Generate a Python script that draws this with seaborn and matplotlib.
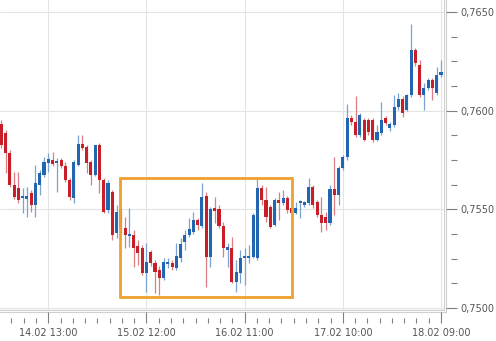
import numpy as np
import pandas as pd
import seaborn as sns
import matplotlib
matplotlib.use("Agg")
import matplotlib.pyplot as plt
from matplotlib.patches import Rectangle
from matplotlib.ticker import FuncFormatter

opens = [0.75933, 0.75887, 0.75786, 0.75624, 0.75608, 0.75558, 0.75553, 0.75583, 0.75522, 0.75624,
         0.75674, 0.75735, 0.75750, 0.75735, 0.75750, 0.75720, 0.75649, 0.75558, 0.75725, 0.75831,
         0.75816, 0.75740, 0.75674, 0.75826, 0.75649, 0.75497, 0.75588, 0.75380, 0.75497, 0.75406,
         0.75365, 0.75370, 0.75315, 0.75304, 0.75178, 0.75284, 0.75228, 0.75193, 0.75152, 0.75223,
         0.75228, 0.75203, 0.75254, 0.75335, 0.75370, 0.75385, 0.75446, 0.75416, 0.75568, 0.75259,
         0.75507, 0.75502, 0.75416, 0.75294, 0.75304, 0.75132, 0.75178, 0.75254, 0.75254, 0.75259,
         0.75254, 0.75608, 0.75548, 0.75512, 0.75421, 0.75548, 0.75532, 0.75558, 0.75507, 0.75482,
         0.75532, 0.75522, 0.75532, 0.75613, 0.75537, 0.75472, 0.75461, 0.75431, 0.75603, 0.75573,
         0.75710, 0.75765, 0.75963, 0.75943, 0.75877, 0.75953, 0.75953, 0.75953, 0.75852, 0.75887,
         0.75963, 0.75912, 0.75928, 0.76019, 0.76059, 0.76004, 0.76080, 0.76308, 0.76232, 0.76080,
         0.76115, 0.76156, 0.76090, 0.76181]
highs = [0.75953, 0.75902, 0.75801, 0.75689, 0.75689, 0.75608, 0.75613, 0.75598, 0.75725, 0.75700,
         0.75765, 0.75786, 0.75791, 0.75760, 0.75760, 0.75740, 0.75659, 0.75750, 0.75877, 0.75877,
         0.75826, 0.75750, 0.75826, 0.75836, 0.75659, 0.75649, 0.75598, 0.75522, 0.75507, 0.75461,
         0.75507, 0.75396, 0.75345, 0.75320, 0.75330, 0.75294, 0.75244, 0.75213, 0.75254, 0.75254,
         0.75244, 0.75330, 0.75355, 0.75396, 0.75456, 0.75487, 0.75456, 0.75634, 0.75588, 0.75512,
         0.75563, 0.75522, 0.75436, 0.75330, 0.75360, 0.75244, 0.75294, 0.75304, 0.75320, 0.75482,
         0.75664, 0.75624, 0.75613, 0.75522, 0.75558, 0.75588, 0.75598, 0.75568, 0.75522, 0.75537,
         0.75548, 0.75543, 0.75659, 0.75624, 0.75548, 0.75563, 0.75487, 0.75624, 0.75765, 0.75720,
         0.75776, 0.76034, 0.75978, 0.76074, 0.75988, 0.75963, 0.75963, 0.75963, 0.75928, 0.76044,
         0.75973, 0.75943, 0.76080, 0.76090, 0.76074, 0.76085, 0.76439, 0.76318, 0.76257, 0.76140,
         0.76166, 0.76166, 0.76221, 0.76257]
lows = [0.75811, 0.75684, 0.75613, 0.75553, 0.75532, 0.75482, 0.75461, 0.75487, 0.75461, 0.75573,
        0.75664, 0.75689, 0.75720, 0.75588, 0.75710, 0.75639, 0.75548, 0.75532, 0.75720, 0.75801,
        0.75684, 0.75624, 0.75669, 0.75583, 0.75482, 0.75482, 0.75345, 0.75355, 0.75380, 0.75304,
        0.75310, 0.75208, 0.75218, 0.75168, 0.75082, 0.75213, 0.75076, 0.75066, 0.75142, 0.75203,
        0.75193, 0.75193, 0.75234, 0.75294, 0.75360, 0.75375, 0.75396, 0.75406, 0.75107, 0.75208,
        0.75431, 0.75406, 0.75259, 0.75208, 0.75127, 0.75082, 0.75127, 0.75117, 0.75228, 0.75254,
        0.75244, 0.75522, 0.75436, 0.75406, 0.75416, 0.75446, 0.75522, 0.75482, 0.75467, 0.75477,
        0.75456, 0.75512, 0.75522, 0.75507, 0.75461, 0.75385, 0.75396, 0.75421, 0.75472, 0.75522,
        0.75700, 0.75750, 0.75928, 0.75867, 0.75867, 0.75847, 0.75877, 0.75841, 0.75847, 0.75877,
        0.75928, 0.75897, 0.75917, 0.76004, 0.75968, 0.75998, 0.76069, 0.76226, 0.76069, 0.76004,
        0.76105, 0.76054, 0.76080, 0.76171]
closes = [0.75826, 0.75786, 0.75624, 0.75563, 0.75548, 0.75568, 0.75568, 0.75522, 0.75634, 0.75684,
          0.75740, 0.75755, 0.75730, 0.75745, 0.75720, 0.75649, 0.75563, 0.75740, 0.75831, 0.75811,
          0.75735, 0.75674, 0.75826, 0.75649, 0.75487, 0.75634, 0.75370, 0.75487, 0.75406, 0.75370,
          0.75375, 0.75304, 0.75279, 0.75178, 0.75234, 0.75228, 0.75183, 0.75152, 0.75234, 0.75234,
          0.75208, 0.75264, 0.75325, 0.75370, 0.75401, 0.75446, 0.75421, 0.75563, 0.75259, 0.75502,
          0.75492, 0.75416, 0.75304, 0.75310, 0.75132, 0.75183, 0.75254, 0.75264, 0.75264, 0.75472,
          0.75608, 0.75548, 0.75461, 0.75411, 0.75548, 0.75532, 0.75558, 0.75497, 0.75482, 0.75507,
          0.75543, 0.75537, 0.75613, 0.75522, 0.75472, 0.75431, 0.75431, 0.75603, 0.75573, 0.75710,
          0.75765, 0.75963, 0.75943, 0.75877, 0.75978, 0.75852, 0.75892, 0.75852, 0.75892, 0.75953,
          0.75938, 0.75933, 0.76019, 0.76059, 0.75988, 0.76080, 0.76308, 0.76242, 0.76080, 0.76115,
          0.76156, 0.76115, 0.76181, 0.76196]

x_tick_pos = [11, 34, 57, 80, 103]
x_tick_labels = ["14.02 13:00", "15.02 12:00", "16.02 11:00", "17.02 10:00", "18.02 09:00"]
y_ticks = [0.7500, 0.7550, 0.7600, 0.7650]

# highlighted range (annotation box)
box_start, box_end = 27.85, 68.1
box_low, box_high = 0.75056, 0.75659

UP_BODY, DOWN_BODY = "#2265b0", "#c81e28"
UP_WICK, DOWN_WICK = "#7aa3d3", "#dc7d84"

sns.set_theme(style="white")
plt.rcParams['font.family'] = ['DejaVu Sans']

df = pd.DataFrame({"o": opens, "h": highs, "l": lows, "c": closes})
df["i"] = np.arange(len(df))
df["up"] = df["c"] >= df["o"]
df["bottom"] = df[["o", "c"]].min(axis=1)
df["height"] = (df["c"] - df["o"]).abs().clip(lower=0.00003)

fig = plt.figure(figsize=(4.96, 3.41), dpi=100)
ax = fig.add_axes([0, 1 - 310 / 341, 444 / 496, 310 / 341])

ax.vlines(df["i"], df["l"], df["h"],
          colors=np.where(df["up"], UP_WICK, DOWN_WICK), linewidth=0.9, zorder=2)
ax.bar(df["i"], df["height"], bottom=df["bottom"], width=0.72,
       color=np.where(df["up"], UP_BODY, DOWN_BODY), linewidth=0, zorder=3)

ax.add_patch(Rectangle((box_start, box_low), box_end - box_start, box_high - box_low,
                       fill=False, edgecolor="#f0a02c", linewidth=2.0, zorder=5))

ax.set_xlim(-0.3, 103.7)
ax.set_ylim(0.749903, 0.765608)

ax.set_xticks(x_tick_pos)
ax.set_xticklabels(x_tick_labels)
ax.set_yticks(y_ticks)
ax.yaxis.set_major_formatter(FuncFormatter(lambda v, p: f"{v:.4f}".replace(".", ",")))
ax.yaxis.tick_right()
ax.grid(True, color="#e4e4e4", linewidth=0.8, zorder=0)
ax.set_axisbelow(True)
ax.tick_params(axis="y", length=0, pad=11.5, labelsize=7, labelcolor="#555555")
ax.tick_params(axis="x", length=0, pad=13, labelsize=7, labelcolor="#555555")

for s in ["left", "top"]:
    ax.spines[s].set_visible(False)
for s in ["right", "bottom"]:
    ax.spines[s].set_color("#cfcfcf")
    ax.spines[s].set_linewidth(0.8)

# outer frame line
ax.plot([1.0056, 1.0056], [-0.008, 1], transform=ax.transAxes, color="#cfcfcf",
        linewidth=0.8, clip_on=False)
ax.plot([0, 1.0056], [-0.008, -0.008], transform=ax.transAxes, color="#cfcfcf",
        linewidth=0.8, clip_on=False)

tick_col = "#808080"
# y ticks (ruler style)
ax.hlines(y_ticks, 1.0056, 1.029, transform=ax.get_yaxis_transform(), colors=tick_col,
          linewidth=0.8, clip_on=False)
y_minor = [v for v in np.arange(0.75, 0.76561, 0.00125) if min(abs(v - t) for t in y_ticks) > 1e-6]
ax.hlines(y_minor, 1.0158, 1.029, transform=ax.get_yaxis_transform(), colors=tick_col,
          linewidth=0.8, clip_on=False)
# x ticks
ax.vlines(x_tick_pos, -0.042, -0.008, transform=ax.get_xaxis_transform(), colors=tick_col,
          linewidth=0.8, clip_on=False)
x_minor = [103 - 2.875 * k for k in range(40) if 103 - 2.875 * k > -0.3 and k % 8 != 0]
ax.vlines(x_minor, -0.042, -0.026, transform=ax.get_xaxis_transform(), colors=tick_col,
          linewidth=0.8, clip_on=False)

fig.savefig("out.png", dpi=100, facecolor="white")
